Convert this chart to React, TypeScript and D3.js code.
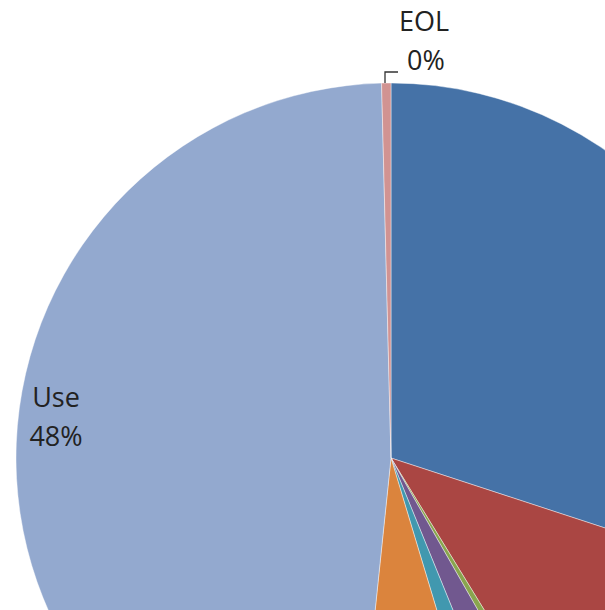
import React from "react";
import * as d3 from "d3";

const categories = ["Materials", "Manufacturing", "Transport", "Packaging", "Distribution", "Assembly", "Use", "EOL"];
const values = [30.0, 11.2, 0.5, 2.1, 1.5, 6.3, 47.9, 0.4];
const colors = ["#4572A7", "#AA4643", "#89A54E", "#71588F", "#4198AF", "#DB843D", "#93A9CF", "#D19392"];
const labelNames = ["Use", "EOL"];
const labelTexts = ["48%", "0%"];

const W = 605;
const H = 610;
const cx = 391;
const cy = 458;
const R = 375;

export default function App() {
  const pie = d3.pie<number>().sort(null).startAngle(0).endAngle(2 * Math.PI)(values);
  const arc = d3.arc<d3.PieArcDatum<number>>().innerRadius(0).outerRadius(R);
  const font = "'Open Sans', sans-serif";
  return (
    <svg width={W} height={H} style={{ position: "absolute", left: 0, top: 0, background: "#fff" }}>
      <g transform={`translate(${cx},${cy})`}>
        {pie.map((d, i) => (
          <path key={categories[i]} d={arc(d) || ""} fill={colors[i]} stroke="#fff" strokeWidth={0.6} strokeOpacity={0.7} />
        ))}
      </g>
      {/* EOL leader line */}
      <path d={`M385,83 L385,72 L398,72`} fill="none" stroke="#333" strokeWidth={1.3} />
      <g fontFamily={font} fontSize={27} fill="#222" textAnchor="middle">
        <text x={56} y={407}>{labelNames[0]}</text>
        <text x={56} y={446}>{labelTexts[0]}</text>
        <text x={424} y={31}>{labelNames[1]}</text>
        <text x={426} y={70}>{labelTexts[1]}</text>
      </g>
    </svg>
  );
}
